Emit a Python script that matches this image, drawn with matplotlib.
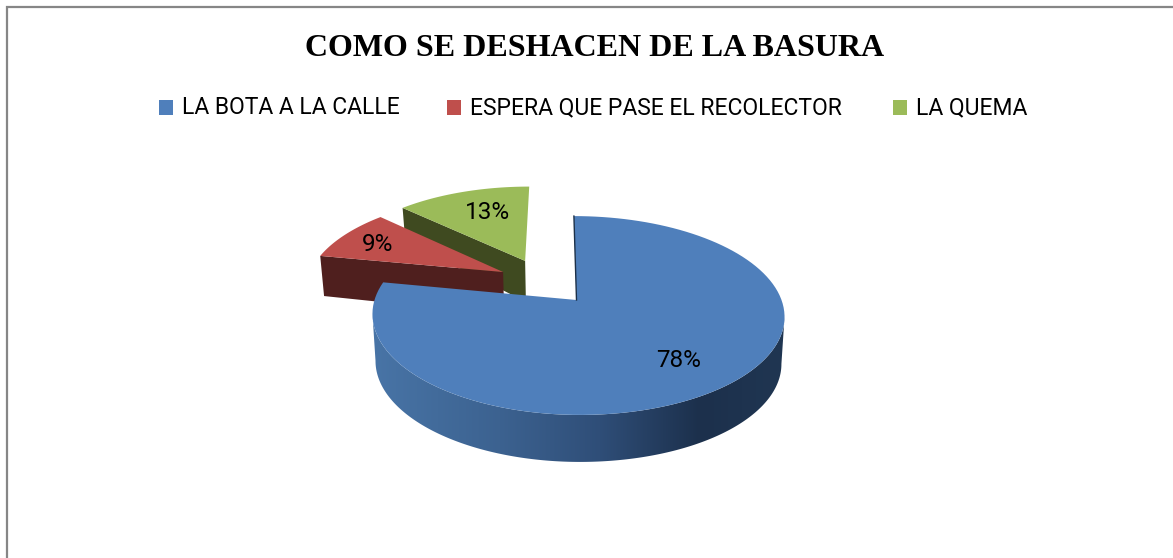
import numpy as np
import matplotlib
matplotlib.use('Agg')
import matplotlib.pyplot as plt
from matplotlib.patches import Polygon, Rectangle

title = 'COMO SE DESHACEN DE LA BASURA'
labels = ['LA BOTA A LA CALLE', 'ESPERA QUE PASE EL RECOLECTOR', 'LA QUEMA']
values = [78, 9, 13]

colors = ['#4f7fbb', '#bf4f4c', '#9bbb59']
face_colors = ['#1c3048', '#4f1f1e', '#3f4a20']
# slice offset on the pie plane (sideways, depth), label radius and label angle nudge
explode = [(0, 0), (-0.376, 0.302), (-0.265, 0.43)]
label_r = [0.71, 0.78, 0.68]
label_turn = [0, 0, 4]
legend_x = [159, 447, 893]

# screen projection of the pie plane, in pixels
AX, AY = 576.5, 300
CX_L, CX_R, CY = 202, 205, 97
SKEW = -3
PERSP = 0.156


def project(X, Z, bottom=False):
    X = np.asarray(X, dtype=float)
    Z = np.asarray(Z, dtype=float)
    w = 1 + PERSP * Z
    sx = np.where(X > 0, CX_R, CX_L) * X + SKEW * Z
    if bottom:
        # wall gets shorter towards the back
        depth = 47 - 14 * np.clip(Z, 0, 1)
        return AX + 0.985 * sx / w, AY + depth - CY * Z / w
    return AX + sx / w, AY - CY * Z / w


def rim(a0, a1, off, bottom=False, n=120):
    a = np.radians(np.linspace(a0, a1, n))
    return project(np.sin(a) + off[0], np.cos(a) + off[1], bottom)


fig = plt.figure(figsize=(11.73, 5.58), dpi=100)
ax = fig.add_axes([0, 0, 1, 1])

# chart frame, only top and left show in the picture
ax.plot([6.5, 6.5, 1173], [558, 7, 7], color='#868686', lw=1.6, solid_joinstyle='miter')

ax.text(595, 48.5, title, ha='center', va='center', fontsize=23.05, fontweight='bold',
        family='Liberation Serif', color='black')

for x, lab, c in zip(legend_x, labels, colors):
    ax.add_patch(Rectangle((x, 100), 14, 14.5, color=c, lw=0))
    ax.text(x + 22.5, 108, lab, ha='left', va='center', fontsize=16.5, family='Roboto', color='black')

bounds = np.cumsum([0] + values) / sum(values) * 360

# back slices first, blue goes on top of them
for i in [2, 1, 0]:
    a0, a1 = bounds[i], bounds[i + 1]
    off = explode[i]
    ta, tb = project(off[0], off[1])

    if i == 0:
        # front wall with the shading running left to right, cut at the silhouette
        sx, sy = rim(30, a1, off, n=400)
        bx, by = rim(30, a1, off, bottom=True, n=400)
        top_r, top_l = np.argmax(sx), np.argmin(sx)
        bot_r, bot_l = np.argmax(bx), np.argmin(bx)
        outline = list(zip(sx[top_r:top_l + 1], sy[top_r:top_l + 1]))
        outline += list(zip(bx[bot_r:bot_l + 1], by[bot_r:bot_l + 1]))[::-1]
        wall = Polygon(outline, facecolor='none', edgecolor='none')
        ax.add_patch(wall)
        shade_x = [375, 500, 600, 700, 785]
        shade = np.array([[0x48, 0x74, 0xa6], [0x3c, 0x62, 0x90], [0x2f, 0x4e, 0x78],
                          [0x1c, 0x30, 0x4c], [0x20, 0x36, 0x52]]) / 255
        xs = np.linspace(365, 790, 426)
        grad = np.stack([np.interp(xs, shade_x, shade[:, j]) for j in range(3)], axis=-1)[np.newaxis, :, :]
        im = ax.imshow(grad, extent=(365, 790, 480, 290), aspect='auto', interpolation='bilinear')
        im.set_clip_path(wall)
        # thin dark sliver along the 12 o'clock cut
        px, py = rim(a0, a0, off, n=1)
        ax.plot([px[0], ta], [py[0], tb], color=face_colors[0], lw=1.0)
    else:
        # cut wall that faces the viewer
        ea, eb = project(off[0], off[1], bottom=True)
        cx_top = rim(a0, a0, off, n=1)
        cx_bot = rim(a0, a0, off, bottom=True, n=1)
        ax.add_patch(Polygon([(ta, tb), (cx_top[0][0], cx_top[1][0]), (cx_bot[0][0], cx_bot[1][0]), (ea, eb)],
                             facecolor=face_colors[i], edgecolor='none'))

    # top face
    tx, ty = rim(a0, a1, off)
    ax.add_patch(Polygon([(ta, tb)] + list(zip(tx, ty)), facecolor=colors[i], edgecolor='none'))

    # percentage label
    mid = np.radians((a0 + a1) / 2 + label_turn[i])
    lx, ly = project(label_r[i] * np.sin(mid) + off[0], label_r[i] * np.cos(mid) + off[1])
    ax.text(lx - 1, ly + 2, f'{values[i]}%', ha='center', va='center', fontsize=17.5, family='Roboto', color='black')

ax.set_xlim(0, 1173)
ax.set_ylim(558, 0)
ax.axis('off')

fig.savefig('out.png', dpi=100)
